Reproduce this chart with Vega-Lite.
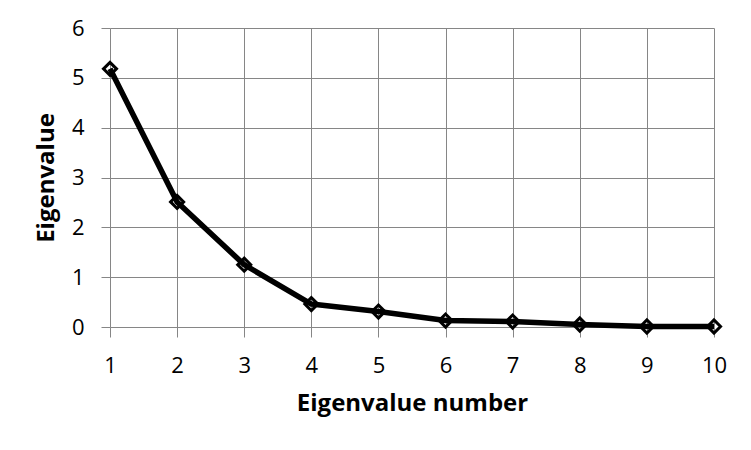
{
  "$schema": "https://vega.github.io/schema/vega-lite/v6.json",
  "width": 604,
  "height": 299,
  "autosize": {"type": "none"},
  "padding": {"left": 110, "top": 28, "right": 37, "bottom": 123},
  "background": "white",
  "config": {
    "view": {"stroke": null},
    "font": "Open Sans",
    "axis": {
      "labelFont": "Open Sans",
      "titleFont": "Open Sans",
      "labelColor": "#000000",
      "titleColor": "#000000",
      "gridColor": "#868686",
      "gridOpacity": 1,
      "gridWidth": 1,
      "tickColor": "#868686",
      "tickWidth": 1,
      "domain": false,
      "labelFontSize": 22,
      "titleFontSize": 24,
      "titleFontWeight": "bold"
    }
  },
  "data": {
    "values": [
      {"n": 1, "ev": 5.18},
      {"n": 2, "ev": 2.51},
      {"n": 3, "ev": 1.25},
      {"n": 4, "ev": 0.46},
      {"n": 5, "ev": 0.31},
      {"n": 6, "ev": 0.13},
      {"n": 7, "ev": 0.11},
      {"n": 8, "ev": 0.05},
      {"n": 9, "ev": 0.01},
      {"n": 10, "ev": 0.01}
    ]
  },
  "encoding": {
    "x": {
      "field": "n",
      "type": "quantitative",
      "scale": {"domain": [1, 10], "nice": false, "zero": false},
      "axis": {
        "title": "Eigenvalue number",
        "values": [1, 2, 3, 4, 5, 6, 7, 8, 9, 10],
        "format": "d",
        "tickSize": 10,
        "labelPadding": 18,
        "titlePadding": 15,
        "labelFlush": false,
        "labelOverlap": false
      }
    },
    "y": {
      "field": "ev",
      "type": "quantitative",
      "scale": {"domain": [0, 6], "nice": false},
      "axis": {
        "title": "Eigenvalue",
        "values": [0, 1, 2, 3, 4, 5, 6],
        "format": "d",
        "tickSize": 9,
        "labelPadding": 17,
        "titlePadding": 13,
        "labelFlush": false,
        "labelOverlap": false
      }
    }
  },
  "layer": [
    {
      "mark": {"type": "line", "color": "#000000", "strokeWidth": 5.5, "strokeJoin": "round"}
    },
    {
      "mark": {"type": "point", "shape": "diamond", "filled": false, "stroke": "#000000", "strokeWidth": 3, "size": 170, "opacity": 1}
    }
  ]
}
